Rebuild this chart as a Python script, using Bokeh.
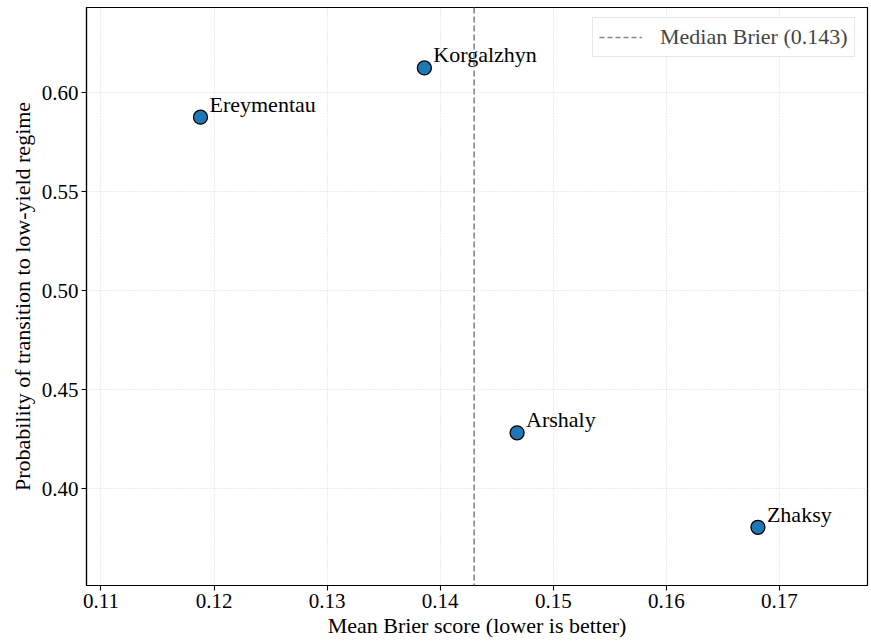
from bokeh.plotting import figure
from bokeh.models import ColumnDataSource, Span, Legend, LegendItem, FixedTicker, NumeralTickFormatter, Range1d
from bokeh.core.properties import value
from bokeh.embed import file_html
from bokeh.resources import INLINE

districts = ["Ereymentau", "Korgalzhyn", "Arshaly", "Zhaksy"]
brier = [0.1188, 0.1386, 0.1468, 0.1681]
prob_low = [0.5877, 0.6126, 0.4283, 0.3806]
median_brier = 0.143
x_ticks = [0.11, 0.12, 0.13, 0.14, 0.15, 0.16, 0.17]
y_ticks = [0.40, 0.45, 0.50, 0.55, 0.60]

FONT = "Liberation Serif"

src = ColumnDataSource(dict(x=brier, y=prob_low, name=districts))

p = figure(frame_width=781, frame_height=578, output_backend="svg", toolbar_location=None,
           x_range=Range1d(0.10872, 0.17779), y_range=Range1d(0.3512, 0.6431),
           min_border_left=86, min_border_top=7, min_border_right=4, min_border_bottom=59)
p.background_fill_color = "white"
p.outline_line_color = "black"
p.outline_line_width = 1.2

p.xaxis.ticker = FixedTicker(ticks=x_ticks)
p.yaxis.ticker = FixedTicker(ticks=y_ticks)
p.xaxis.formatter = NumeralTickFormatter(format="0.00[0]")
p.yaxis.formatter = NumeralTickFormatter(format="0.00")
for ax in (p.xaxis[0], p.yaxis[0]):
    ax.major_label_text_font = FONT
    ax.major_label_text_font_size = "21px"
    ax.major_label_text_color = "black"
    ax.axis_label_text_font = FONT
    ax.axis_label_text_font_size = "22px"
    ax.axis_label_text_font_style = "normal"
    ax.axis_label_text_color = "black"
    ax.minor_tick_line_color = None
    ax.major_tick_in = 0
    ax.major_tick_out = 5
    ax.major_label_standoff = 3
    ax.axis_line_color = "black"
    ax.axis_line_width = 1.2
    ax.major_tick_line_color = "black"
    ax.major_tick_line_width = 1.1
p.xaxis.axis_label = "Mean Brier score (lower is better)"
p.yaxis.axis_label = "Probability of transition to low-yield regime"
p.xaxis.axis_label_standoff = 2
p.yaxis.axis_label_standoff = 4

p.grid.grid_line_color = "#cccccc"
p.grid.grid_line_dash = "1 2"
p.grid.grid_line_width = 0.8

med = Span(location=median_brier, dimension="height", line_color="#888888",
           line_dash="6 3", line_width=1.6)
p.add_layout(med)
leg_line = p.line(x=[median_brier, median_brier], y=[0.3, 0.3], line_color="#888888",
                  line_dash="5 3", line_width=1.6)

p.scatter("x", "y", source=src, size=14, fill_color="#1f77b4", line_color="black", line_width=1.3)
p.text("x", "y", text="name", source=src, x_offset=9, y_offset=-13,
       text_font=value(FONT), text_font_size="22px", text_baseline="alphabetic",
       text_color="black")

legend = Legend(items=[LegendItem(label="Median Brier (0.143)", renderers=[leg_line])],
                location=(506, 528), label_text_font=FONT, label_text_font_size="22px",
                border_line_color="#d0d0d0", border_line_width=1, glyph_width=43,
                margin=0, padding=6, spacing=0, label_standoff=18, label_height=22,
                label_text_baseline="middle")
p.add_layout(legend)

open("out.html", "w").write(file_html(p, INLINE))
